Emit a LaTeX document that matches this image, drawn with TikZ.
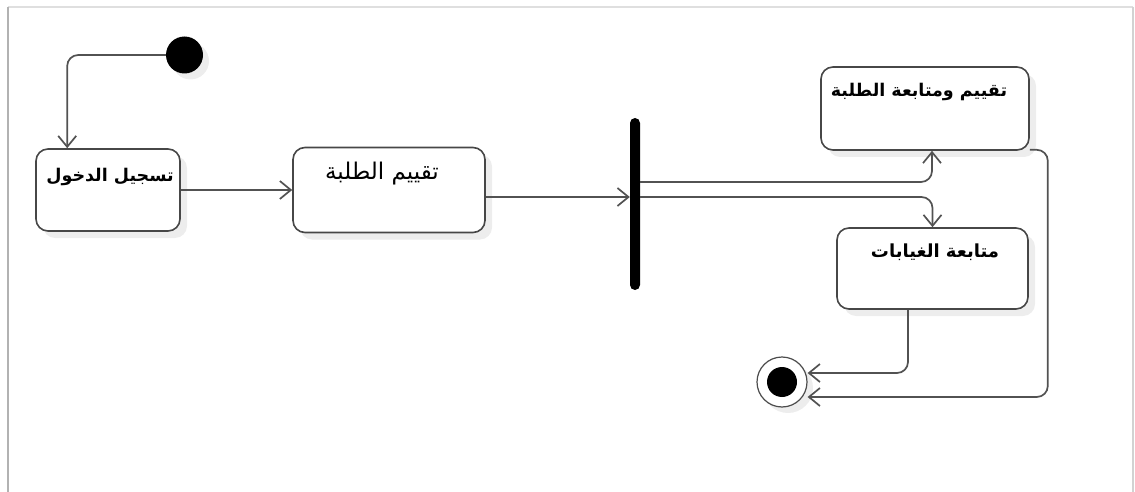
\documentclass[tikz,border=0pt]{standalone}
\usepackage{fontspec}
\newfontfamily\arabicfont[Script=Arabic]{DejaVu Sans}
\TeXXeTstate=1
\usetikzlibrary{arrows.meta,calc,shadows}
\begin{document}
\begin{tikzpicture}[x=1pt,y=-1pt,
  box/.style={draw=black!72, line width=1.6pt, rounded corners=12pt, fill=white, inner sep=0pt,
    drop shadow={shadow xshift=7pt, shadow yshift=-7pt, fill=black, opacity=0.07}},
  conn/.style={draw=black!68, line width=1.7pt, rounded corners=11pt,
    -{Straight Barb[length=11pt,width=18pt]}},
  lbl/.style={anchor=center, inner sep=0pt},
  fb/.style={font=\arabicfont\bfseries\fontsize{#1}{#1}\selectfont},
  fr/.style={font=\arabicfont\fontsize{#1}{#1}\selectfont}]
\useasboundingbox (0,0) rectangle (1135,492);
% frame
\draw[gray!25, line width=1.5pt] (8,7) -- (1133,7);
\draw[gray!60, line width=2.5pt] (8,7) -- (8,492);
\draw[gray!35, line width=1.5pt] (1133,7) -- (1133,492);
% nodes
\node[circle, fill=black, minimum size=37pt, inner sep=0pt,
  drop shadow={shadow xshift=6pt, shadow yshift=-6pt, fill=black, opacity=0.07}] (init) at (184.5,55) {};
\node[box, minimum width=144pt, minimum height=82pt,
  label={[name=t1, lbl, fb=17.5, xshift=2pt, yshift=-29pt]north:{\beginR تسجيل الدخول\endR}}] (b1) at (108,190) {};
\node[box, minimum width=192pt, minimum height=85pt,
  label={[name=t2, lbl, fr=23, xshift=-7pt, yshift=-27pt]north:{\beginR تقييم الطلبة\endR}}] (b2) at (389,190) {};
\node[box, minimum width=208pt, minimum height=83pt,
  label={[name=t3, lbl, fb=17.5, xshift=-6pt, yshift=-26pt]north:{\beginR تقييم ومتابعة الطلبة\endR}}] (b3) at (925,108.5) {};
\node[box, minimum width=191pt, minimum height=81pt,
  label={[name=t4, lbl, fb=18, xshift=2.5pt, yshift=-25pt]north:{\beginR متابعة الغيابات\endR}}] (b4) at (932.5,268.5) {};
\node[fill=black, minimum width=10pt, minimum height=172pt, inner sep=0pt, rounded corners=5pt] (bar) at (635,204) {};
\node[circle, draw=black!70, line width=1.2pt, fill=white, minimum size=50pt, inner sep=0pt,
  drop shadow={shadow xshift=6pt, shadow yshift=-6pt, fill=black, opacity=0.07}] (fin) at (782,382) {};
\node[circle, fill=black, minimum size=30pt, inner sep=0pt] (finc) at (fin) {};
% connectors
\draw[conn] (init.west) -| ($(b1.north west)+(32,0)$);
\draw[conn] (b1.east) -- (b2.west);
\coordinate (c1) at ($(b2.east)+(0,7)$);
\draw[conn] (c1) -- (c1 -| bar.west);
\coordinate (c2) at ($(bar.east)+(0,-22)$);
\draw[conn] (c2) -| ($(b3.south)+(7,0)$);
\coordinate (c3) at ($(bar.east)+(0,-7)$);
\draw[conn] (c3) -| (b4.north);
\draw[conn] ($(b3.south east)+(0,-1)$) -- ++(18,0) |- ($(fin.east)+(0,15)$);
\draw[conn] ($(b4.south)+(-24.5,0)$) |- ($(fin.east)+(0,-9)$);
\end{tikzpicture}
\end{document}
